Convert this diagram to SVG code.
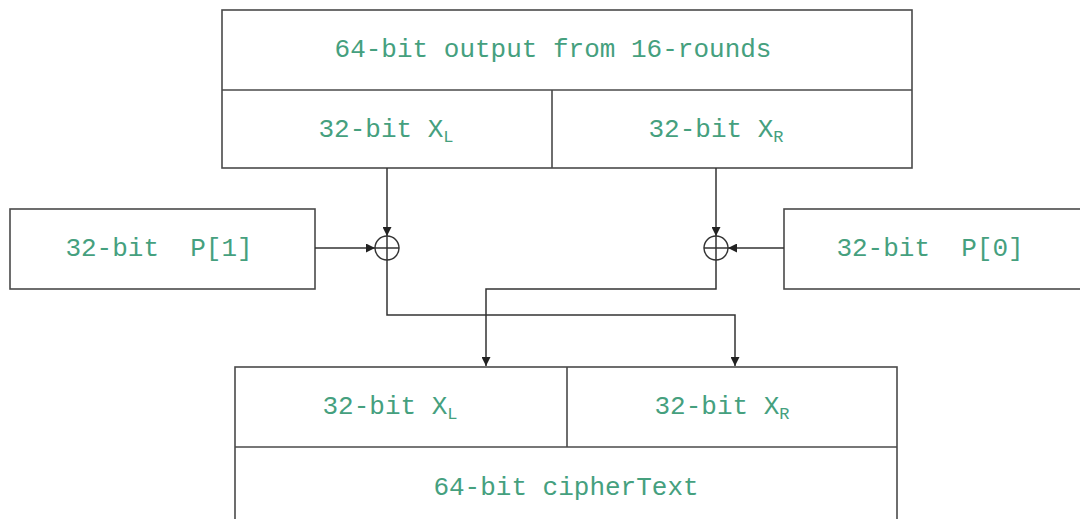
<svg xmlns="http://www.w3.org/2000/svg" width="1080" height="519" viewBox="0 0 1080 519">
<style>
.box{fill:#fff;stroke:#4a4a4a;stroke-width:1.6}
.ln{fill:none;stroke:#333;stroke-width:1.5}
.t{font-family:"Liberation Mono","Courier New",monospace;font-size:26px;fill:#45a07e;text-anchor:middle;dominant-baseline:central}
.s{font-size:17px}
</style>
<defs>
<marker id="ah" viewBox="0 0 10 10" refX="10" refY="5" markerWidth="9" markerHeight="9" markerUnits="userSpaceOnUse" orient="auto">
<path d="M0,0 L10,5 L0,10 z" fill="#222"/>
</marker>
</defs>
<rect width="1080" height="519" fill="#fff"/>
<g id="top">
<rect class="box" x="222" y="10" width="690" height="158"/>
<line class="box" x1="222" y1="90" x2="912" y2="90"/>
<line class="box" x1="552" y1="90" x2="552" y2="168"/>
<text class="t" x="553" y="50">64-bit output from 16-rounds</text>
<text class="t" x="386" y="130">32-bit X<tspan class="s" dy="7">L</tspan></text>
<text class="t" x="716" y="130">32-bit X<tspan class="s" dy="7">R</tspan></text>
</g>
<g id="p1">
<rect class="box" x="10" y="209" width="305" height="80"/>
<text class="t" x="159" y="249" xml:space="preserve">32-bit  P[1]</text>
</g>
<g id="p0">
<rect class="box" x="784" y="209" width="300" height="80"/>
<text class="t" x="930" y="249" xml:space="preserve">32-bit  P[0]</text>
</g>
<g id="xor1">
<circle class="ln" cx="387" cy="248" r="12"/>
<line class="ln" x1="375" y1="248" x2="399" y2="248"/>
<line class="ln" x1="387" y1="236" x2="387" y2="260"/>
</g>
<g id="xor2">
<circle class="ln" cx="716" cy="248" r="12"/>
<line class="ln" x1="704" y1="248" x2="728" y2="248"/>
<line class="ln" x1="716" y1="236" x2="716" y2="260"/>
</g>
<g id="bottom">
<rect class="box" x="235" y="367" width="662" height="160"/>
<line class="box" x1="235" y1="447" x2="897" y2="447"/>
<line class="box" x1="567" y1="367" x2="567" y2="447"/>
<text class="t" x="390" y="407">32-bit X<tspan class="s" dy="7">L</tspan></text>
<text class="t" x="722" y="407">32-bit X<tspan class="s" dy="7">R</tspan></text>
<text class="t" x="566" y="488">64-bit cipherText</text>
</g>
<g id="connectors">
<line class="ln" x1="387" y1="168" x2="387" y2="236" marker-end="url(#ah)"/>
<line class="ln" x1="716" y1="168" x2="716" y2="236" marker-end="url(#ah)"/>
<line class="ln" x1="315" y1="248" x2="375" y2="248" marker-end="url(#ah)"/>
<line class="ln" x1="784" y1="248" x2="728" y2="248" marker-end="url(#ah)"/>
<polyline class="ln" points="387,260 387,315 735,315 735,366" marker-end="url(#ah)"/>
<polyline class="ln" points="716,260 716,289 486,289 486,366" marker-end="url(#ah)"/>
</g>
</svg>
